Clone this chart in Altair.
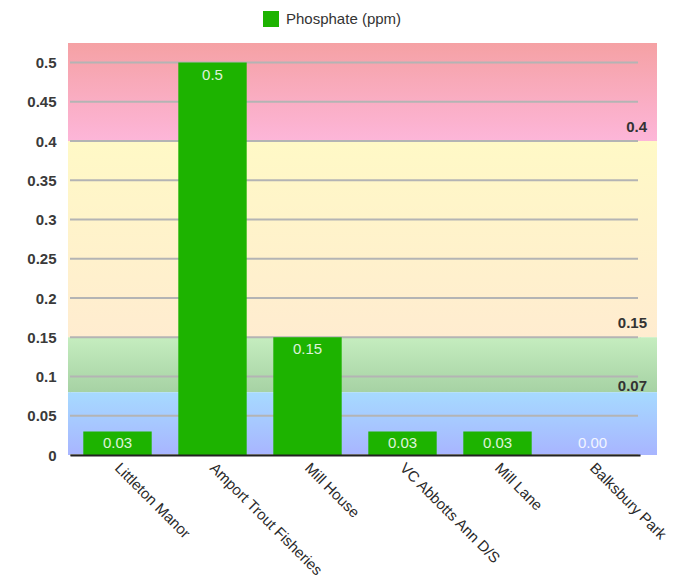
import altair as alt
import pandas as pd

sites = ["Littleton Manor", "Amport Trout Fisheries", "Mill House",
         "VC Abbotts Ann D/S", "Mill Lane", "Balksbury Park"]
phosphate = [0.03, 0.5, 0.15, 0.03, 0.03, 0.0]
bar_labels = ["0.03", "0.5", "0.15", "0.03", "0.03", "0.00"]

y_ticks = [0, 0.05, 0.1, 0.15, 0.2, 0.25, 0.3, 0.35, 0.4, 0.45, 0.5]
band_low = [0.4, 0.15, 0.08, 0.0]
band_high = [0.525, 0.4, 0.15, 0.08]
band_top_colors = ["#f5a1a4", "#fff9c6", "#c5edbf", "#a6daff"]
band_bottom_colors = ["#fdb6d9", "#ffecd0", "#a6d2a4", "#a8b5ff"]
threshold_values = [0.4, 0.15, 0.07]
threshold_labels = ["0.4", "0.15", "0.07"]

df = pd.DataFrame({"site": sites, "value": phosphate, "label": bar_labels,
                   "series": ["Phosphate (ppm)"] * len(sites)})
ticks_df = pd.DataFrame({"t": y_ticks})
thr_df = pd.DataFrame({"v": threshold_values, "label": threshold_labels})

FONT = "Liberation Sans"
yscale = alt.Scale(domain=[0, 0.525], nice=False, zero=True)
yaxis = alt.Axis(values=y_ticks, format=".2~f", grid=False, domain=False,
                 ticks=False, labelPadding=14, labelFontSize=15,
                 labelFontWeight="bold", labelColor="#3a3a3a",
                 labelFont=FONT, title=None)
xscale = alt.Scale(paddingInner=0.28, paddingOuter=0.14)
xaxis = alt.Axis(labelAngle=45, labelAlign="left", labelBaseline="middle",
                 labelFontSize=15, labelColor="#2a2a2a",
                 labelPadding=10, labelFont=FONT,
                 ticks=False, domainColor="#222222", domainWidth=2,
                 title=None, zindex=1)

layers = []
for lo, hi, c1, c2 in zip(band_low, band_high, band_top_colors, band_bottom_colors):
    bd = pd.DataFrame({"lo": [lo], "hi": [hi]})
    grad = alt.Gradient(gradient="linear", x1=0, y1=0, x2=0, y2=1,
                        stops=[alt.GradientStop(color=c1, offset=0),
                               alt.GradientStop(color=c2, offset=1)])
    layers.append(
        alt.Chart(bd).mark_rect(color=grad).encode(
            x=alt.value(-2), x2=alt.value(587),
            y=alt.Y("hi:Q", scale=yscale, axis=yaxis),
            y2="lo:Q",
        )
    )

grid = alt.Chart(ticks_df).mark_rule(color="#b4b4b4", strokeWidth=2).encode(
    x=alt.value(0), x2=alt.value(568),
    y=alt.Y("t:Q", scale=yscale, axis=yaxis),
)

bars = alt.Chart(df).mark_bar(color="#1db300").encode(
    x=alt.X("site:N", sort=sites, scale=xscale, axis=xaxis),
    y=alt.Y("value:Q", scale=yscale, axis=yaxis),
    color=alt.Color("series:N", scale=alt.Scale(range=["#1db300"]),
                    legend=alt.Legend(title=None, orient="none", legendX=193, legendY=-32,
                                      symbolType="square", symbolSize=256,
                                      symbolStrokeWidth=0, labelOffset=7,
                                      labelFontSize=15, labelColor="#333333",
                                      labelFont=FONT)),
)

bar_text = alt.Chart(df).transform_calculate(
    ly="max(datum.value, 0.03)"
).mark_text(color="#ffffff", opacity=0.85, fontSize=15, dy=12,
            font=FONT, baseline="middle").encode(
    x=alt.X("site:N", sort=sites, scale=xscale, axis=xaxis),
    y=alt.Y("ly:Q", scale=yscale, axis=yaxis),
    text="label:N",
)

thr_text = alt.Chart(thr_df).mark_text(
    align="right", baseline="middle", dy=-14, fontSize=15, fontWeight="bold",
    color="#333333", font=FONT
).encode(
    x=alt.value(577),
    y=alt.Y("v:Q", scale=yscale, axis=yaxis),
    text="label:N",
)

chart = alt.layer(*layers, grid, bars, bar_text, thr_text).properties(
    width=570, height=412,
    autosize=alt.AutoSizeParams(type="none"),
    padding={"left": 70, "top": 43, "right": 33, "bottom": 130},
).configure_view(stroke=None).configure(background="#ffffff")

chart.save("out.html", embed_options={"renderer": "svg", "actions": False})
